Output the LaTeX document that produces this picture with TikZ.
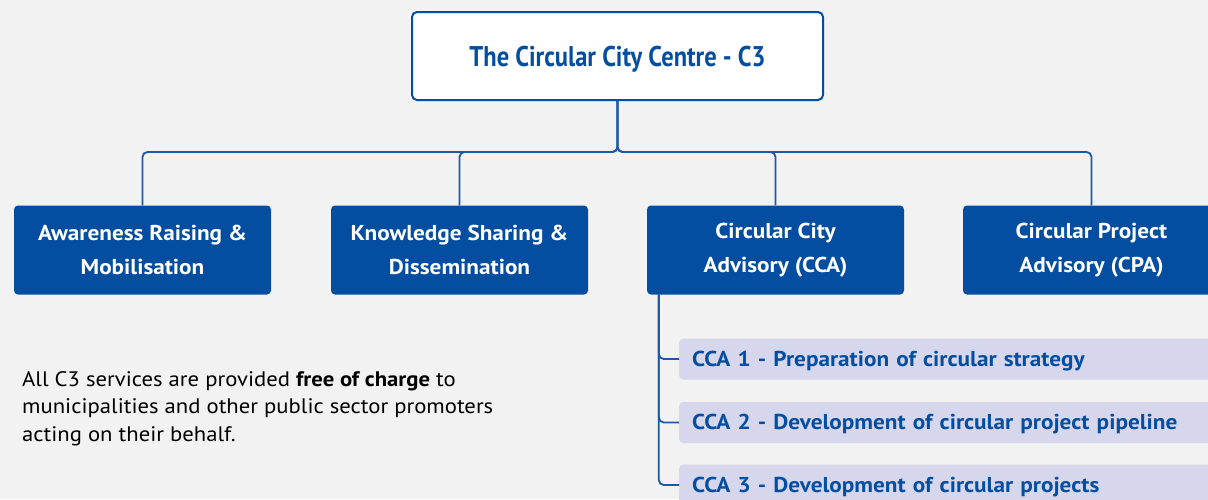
\documentclass[tikz,border=0pt]{standalone}
\usepackage{fontspec}
\setmainfont{PT Sans}[FakeStretch=1.08]
\newfontfamily\condfont{PT Sans}[FakeStretch=0.86]
\usetikzlibrary{positioning,calc}
\definecolor{c3blue}{RGB}{4,78,161}
\definecolor{c3line}{RGB}{30,88,165}
\definecolor{c3lilac}{RGB}{214,214,236}
\definecolor{c3bg}{RGB}{242,242,242}
\tikzset{
  headbox/.style={draw=c3blue, line width=2pt, fill=white, rounded corners=5pt,
    minimum width=411pt, minimum height=88pt, text=c3blue, text depth=0pt,
    font=\condfont\fontsize{28.5}{32}\selectfont\bfseries},
  unitbox/.style={fill=c3blue, rounded corners=4pt, minimum width=257pt,
    minimum height=89pt, text=white, align=center, inner sep=0pt,
    font=\fontsize{21.5}{34}\selectfont\bfseries},
  subbox/.style={fill=c3lilac, rounded corners=4pt, minimum width=560pt,
    minimum height=41pt, text=c3blue, anchor=west, text width=536pt,
    text height=16pt, text depth=2pt,
    align=left, inner xsep=13pt, font=\fontsize{21.5}{24}\selectfont\bfseries},
  conn/.style={draw=c3line, line width=1.8pt, rounded corners=5pt}
}
\begin{document}
\begin{tikzpicture}[x=1pt, y=-1pt]
  \fill[c3bg] (0,0) rectangle (1208,499);
  \useasboundingbox (0,0) rectangle (1208,499);
  \clip (0,0) rectangle (1208,499);

  % top and the four services
  \node[headbox] (c3) at (617.5,56) {The Circular City Centre - C3};
  \node[unitbox] (aware) at (142.5,250) {Awareness Raising \&\\Mobilisation};
  \node[unitbox] (know) at (459.5,250) {Knowledge Sharing \&\\Dissemination};
  \node[unitbox] (cca) at (775.5,250) {Circular City\\Advisory (CCA)};
  \node[unitbox] (cpa) at (1091.5,250) {Circular Project\\Advisory (CPA)};
  \coordinate (bus) at (617.5,152);
  \foreach \n in {aware,know,cca,cpa}
    \draw[conn] (c3.south) -- (c3.south |- bus) -| (\n.north);

  % CCA sub-services
  \node[subbox] (cca1) at (679,359) {CCA 1 - Preparation of circular strategy};
  \node[subbox] (cca2) at (679,422.5) {CCA 2 - Development of circular project pipeline};
  \node[subbox] (cca3) at (679,485) {CCA 3 - Development of circular projects};
  \coordinate (trunk) at ($(cca.south west)+(12,0)$);
  \foreach \n in {cca1,cca2,cca3}
    \draw[conn] (trunk) |- (\n.west);

  \node[anchor=north west, align=left, inner sep=0pt,
    font=\fontsize{21}{27.5}\selectfont] (note) at (22,371)
    {All C3 services are provided \textbf{free of charge} to\\
     municipalities and other public sector promoters\\
     acting on their behalf.};
\end{tikzpicture}
\end{document}
